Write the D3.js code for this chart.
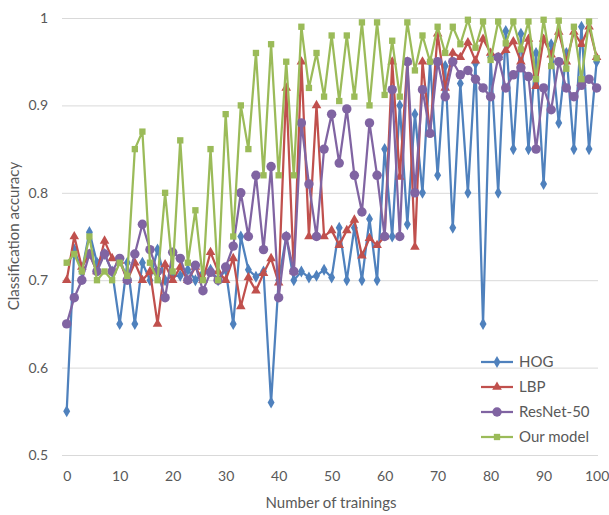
<!DOCTYPE html>
<html>
<head>
<meta charset="utf-8">
<script src="https://cdn.jsdelivr.net/npm/d3@7"></script>
<style>
  body { margin: 0; background: #fff; }
  svg text { font-family: Lato, "Open Sans", sans-serif; fill: #595959; }
</style>
</head>
<body>
<div id="chart"></div>
<script>
// Chart values (71 runs spread over 0..100 trainings)
const seriesNames = ["HOG", "LBP", "ResNet-50", "Our model"];

const hog = [0.55, 0.735, 0.71, 0.755, 0.72, 0.73, 0.71, 0.65, 0.72, 0.65,
  0.72, 0.70, 0.735, 0.70, 0.705, 0.705, 0.712, 0.70, 0.708, 0.712,
  0.70, 0.712, 0.65, 0.75, 0.712, 0.704, 0.71, 0.56, 0.70, 0.75,
  0.70, 0.71, 0.703, 0.705, 0.712, 0.703, 0.76, 0.70, 0.76, 0.70,
  0.77, 0.70, 0.85, 0.75, 0.90, 0.764, 0.89, 0.80, 0.95, 0.82,
  0.945, 0.76, 0.925, 0.80, 0.948, 0.65, 0.955, 0.80, 0.985, 0.85,
  0.982, 0.85, 0.96, 0.81, 0.97, 0.88, 0.96, 0.85, 0.99, 0.85, 0.95];

const lbp = [0.70, 0.75, 0.715, 0.73, 0.71, 0.745, 0.725, 0.722, 0.70, 0.72,
  0.70, 0.71, 0.65, 0.718, 0.70, 0.715, 0.70, 0.715, 0.70, 0.732,
  0.71, 0.70, 0.725, 0.67, 0.703, 0.688, 0.708, 0.725, 0.697, 0.92,
  0.71, 0.95, 0.75, 0.90, 0.75, 0.757, 0.74, 0.757, 0.769, 0.728,
  0.748, 0.74, 0.75, 0.95, 0.818, 0.95, 0.738, 0.95, 0.868, 0.982,
  0.92, 0.96, 0.955, 0.972, 0.951, 0.976, 0.96, 0.955, 0.963, 0.973,
  0.95, 0.976, 0.922, 0.976, 0.958, 0.984, 0.95, 0.984, 0.97, 0.99, 0.955];

const resnet = [0.65, 0.68, 0.70, 0.73, 0.71, 0.73, 0.71, 0.725, 0.70, 0.73,
  0.764, 0.735, 0.71, 0.68, 0.732, 0.725, 0.70, 0.717, 0.688, 0.709,
  0.70, 0.715, 0.739, 0.80, 0.75, 0.82, 0.735, 0.83, 0.68, 0.75,
  0.71, 0.88, 0.81, 0.75, 0.85, 0.89, 0.834, 0.896, 0.82, 0.778,
  0.88, 0.82, 0.75, 0.918, 0.75, 0.95, 0.80, 0.918, 0.868, 0.95,
  0.91, 0.95, 0.935, 0.94, 0.93, 0.92, 0.91, 0.955, 0.92, 0.935,
  0.943, 0.933, 0.85, 0.92, 0.895, 0.95, 0.92, 0.91, 0.923, 0.93, 0.92];

const ourModel = [0.72, 0.73, 0.71, 0.75, 0.70, 0.71, 0.70, 0.72, 0.705, 0.85,
  0.87, 0.72, 0.70, 0.80, 0.71, 0.86, 0.72, 0.78, 0.70, 0.85,
  0.70, 0.89, 0.75, 0.90, 0.85, 0.96, 0.82, 0.97, 0.82, 0.95,
  0.82, 0.99, 0.92, 0.96, 0.91, 0.98, 0.905, 0.98, 0.91, 0.995,
  0.90, 0.995, 0.912, 0.974, 0.91, 0.995, 0.94, 0.98, 0.95, 0.99,
  0.96, 0.99, 0.97, 0.998, 0.966, 0.996, 0.952, 0.996, 0.971, 0.996,
  0.964, 0.996, 0.93, 0.998, 0.945, 0.997, 0.942, 0.99, 0.93, 0.996, 0.954];

const xTicks = [0, 10, 20, 30, 40, 50, 60, 70, 80, 90, 100];
const yTicks = [0.5, 0.6, 0.7, 0.8, 0.9, 1];
const yTickLabels = ["0.5", "0.6", "0.7", "0.8", "0.9", "1"];

// Layout
const width = 609;
const height = 515;
const plot = { left: 62, right: 598, top: 18, bottom: 455 };

const svg = d3.select("#chart")
  .append("svg")
  .attr("width", width)
  .attr("height", height);

const x = d3.scaleLinear().domain([0, 100]).range([66.7, 596.6]);
const y = d3.scaleLinear().domain([0.5, 1]).range([plot.bottom, plot.top]);

// y axis with gridlines
const yAxis = svg.append("g")
  .attr("transform", `translate(${plot.left},0)`)
  .call(d3.axisLeft(y)
    .tickValues(yTicks)
    .tickFormat((d, i) => yTickLabels[i])
    .tickSize(-(plot.right - plot.left))
    .tickPadding(14));
yAxis.select(".domain").remove();
yAxis.selectAll("line").attr("stroke", "#d9d9d9").attr("stroke-width", 1);
yAxis.selectAll("text").style("font-size", "14px").attr("fill", "#595959");

// x axis labels only
const xAxis = svg.append("g")
  .attr("transform", `translate(0,${plot.bottom})`)
  .call(d3.axisBottom(x).tickValues(xTicks).tickSize(0).tickPadding(16));
xAxis.select(".domain").remove();
xAxis.selectAll("text").style("font-size", "14px").attr("fill", "#595959");

// Axis titles
svg.append("text")
  .attr("x", 331)
  .attr("y", 508)
  .attr("text-anchor", "middle")
  .style("font-size", "15px")
  .text("Number of trainings");

svg.append("text")
  .attr("transform", "translate(19,236) rotate(-90)")
  .attr("text-anchor", "middle")
  .style("font-size", "15px")
  .text("Classification accuracy");

// Series
const colors = ["#4F81BD", "#C0504D", "#8064A2", "#9BBB59"];
const symbols = [
  d3.symbol().type(d3.symbolDiamond).size(42),
  d3.symbol().type(d3.symbolTriangle).size(40),
  d3.symbol().type(d3.symbolCircle).size(70),
  d3.symbol().type(d3.symbolSquare).size(40)
];
const allSeries = [hog, lbp, resnet, ourModel];
const step = 100 / (hog.length - 1);

const line = d3.line()
  .x((d, i) => x(i * step))
  .y(d => y(d));

allSeries.forEach((values, s) => {
  const g = svg.append("g");
  g.append("path")
    .datum(values)
    .attr("fill", "none")
    .attr("stroke", colors[s])
    .attr("stroke-width", 2.25)
    .attr("stroke-linejoin", "round")
    .attr("d", line);
  g.selectAll("path.mark")
    .data(values)
    .join("path")
    .attr("class", "mark")
    .attr("transform", (d, i) => `translate(${x(i * step)},${y(d)})`)
    .attr("d", symbols[s]())
    .attr("fill", colors[s]);
});

// Legend
const legendY = [362, 387, 412, 437];
const legend = svg.append("g");
seriesNames.forEach((name, s) => {
  const row = legend.append("g").attr("transform", `translate(0,${legendY[s]})`);
  row.append("line")
    .attr("x1", 481).attr("x2", 513)
    .attr("stroke", colors[s]).attr("stroke-width", 2.25);
  row.append("path")
    .attr("transform", "translate(497,0)")
    .attr("d", symbols[s]())
    .attr("fill", colors[s]);
  row.append("text")
    .attr("x", 519)
    .attr("dy", "0.35em")
    .style("font-size", "15px")
    .text(name);
});
</script>
</body>
</html>
